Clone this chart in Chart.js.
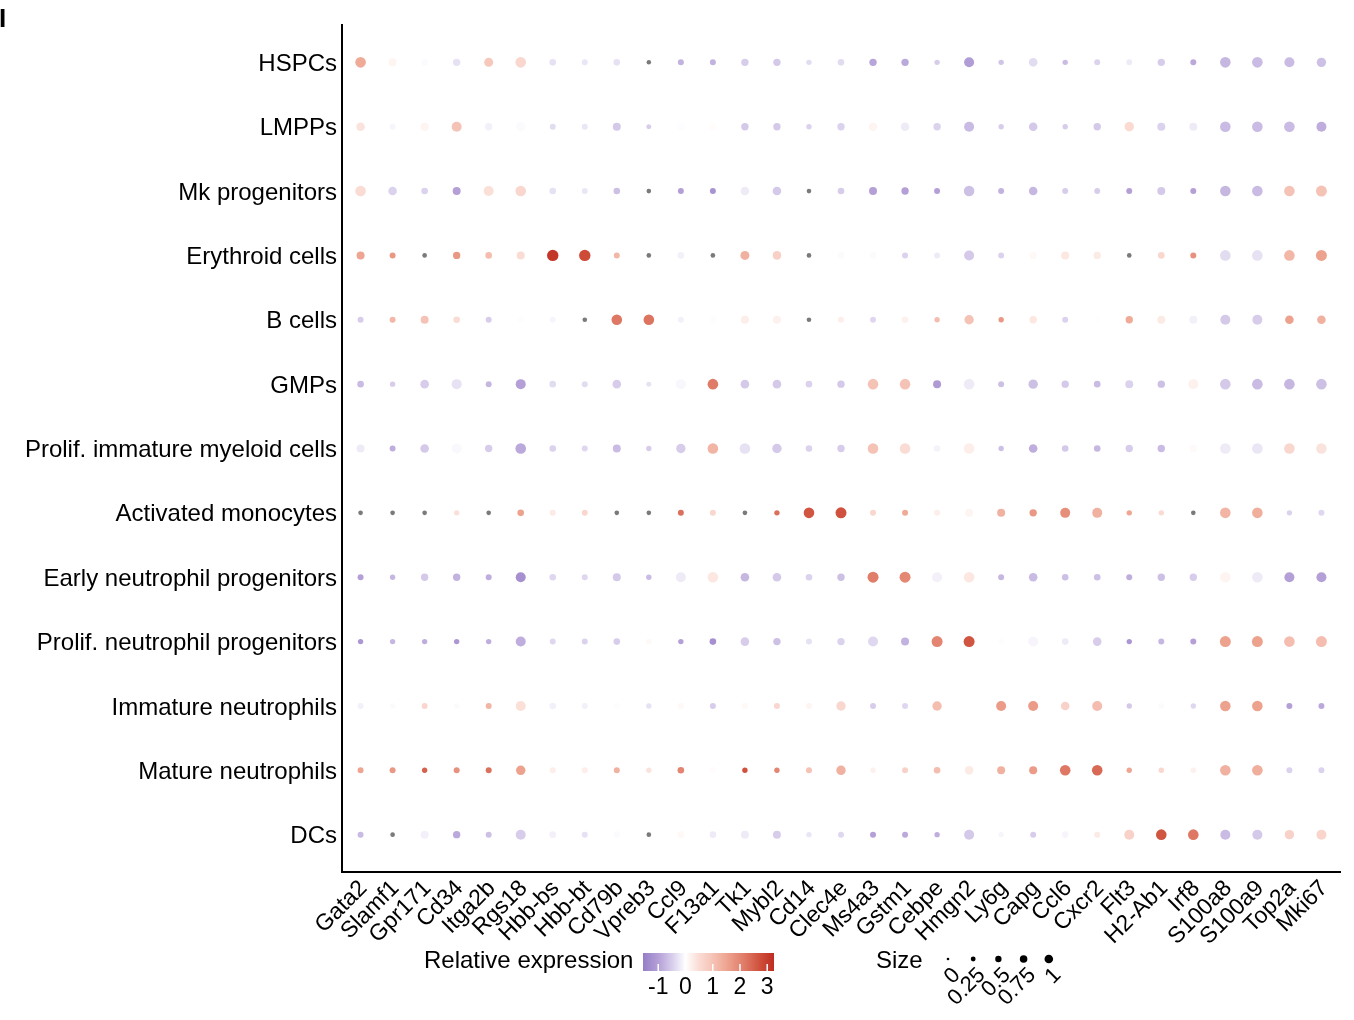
<!DOCTYPE html>
<html>
<head>
<meta charset="utf-8">
<script src="https://cdn.jsdelivr.net/npm/chart.js@4/dist/chart.umd.min.js"></script>
<style>
  html, body { margin: 0; padding: 0; background: #ffffff; }
  #wrap { width: 1354px; height: 1020px; position: relative; }
</style>
</head>
<body>
<div id="wrap"><canvas id="dotplot" width="1354" height="1020"></canvas></div>
<script>
// Marker genes (x axis) and cell populations (y axis, top to bottom)
const genes = ["Gata2", "Slamf1", "Gpr171", "Cd34", "Itga2b", "Rgs18", "Hbb-bs", "Hbb-bt",
  "Cd79b", "Vpreb3", "Ccl9", "F13a1", "Tk1", "Mybl2", "Cd14", "Clec4e", "Ms4a3", "Gstm1",
  "Cebpe", "Hmgn2", "Ly6g", "Capg", "Ccl6", "Cxcr2", "Flt3", "H2-Ab1", "Irf8", "S100a8",
  "S100a9", "Top2a", "Mki67"];

const cellTypes = ["HSPCs", "LMPPs", "Mk progenitors", "Erythroid cells", "B cells", "GMPs",
  "Prolif. immature myeloid cells", "Activated monocytes", "Early neutrophil progenitors",
  "Prolif. neutrophil progenitors", "Immature neutrophils", "Mature neutrophils", "DCs"];

// Relative expression per cell type (rows) and gene (columns); null = not available (grey)
const exprHSPC = [1.4, 0.15, -0.05, -0.3, 0.9, 0.6, -0.3, -0.25, -0.3, null, -0.8, -0.8, -0.5, -0.55, -0.35, -0.35, -0.95, -0.9, -0.5, -1.05, -0.6, -0.35, -0.7, -0.45, -0.2, -0.5, -0.9, -0.75, -0.7, -0.7, -0.65];
const exprLMPP = [0.4, -0.1, 0.15, 1.0, -0.15, -0.05, -0.35, -0.25, -0.55, -0.5, -0.03, 0.05, -0.55, -0.55, -0.45, -0.45, 0.15, -0.2, -0.45, -0.7, -0.5, -0.55, -0.5, -0.55, 0.55, -0.45, -0.2, -0.7, -0.7, -0.7, -0.85];
const exprMk = [0.5, -0.45, -0.45, -1.0, 0.45, 0.6, -0.3, -0.25, -0.65, null, -1.0, -1.2, -0.2, -0.55, null, -0.5, -1.0, -1.0, -1.0, -0.65, -0.8, -0.75, -0.5, -0.5, -1.0, -0.55, -1.0, -0.75, -0.7, 1.0, 1.0];
const exprEry = [1.5, 1.7, null, 1.7, 1.1, 0.5, 3.1, 2.8, 1.2, null, -0.15, null, 1.3, 0.75, null, -0.05, -0.05, -0.45, -0.2, -0.55, -0.45, 0.1, 0.35, 0.3, null, 0.6, 1.8, -0.35, -0.3, 1.2, 1.55];
const exprB = [-0.5, 1.2, 1.0, 0.5, -0.5, -0.02, -0.1, null, 2.2, 2.25, -0.15, -0.03, 0.25, 0.2, null, 0.25, -0.4, 0.2, 1.1, 1.0, 1.7, 0.35, -0.45, 0.02, 1.4, 0.3, -0.15, -0.55, -0.5, 1.55, 1.3];
const exprGMP = [-0.7, -0.5, -0.5, -0.3, -0.75, -1.0, -0.35, -0.35, -0.5, -0.3, -0.08, 2.15, -0.55, -0.55, -0.45, -0.55, 1.0, 1.0, -1.1, -0.2, -0.65, -0.65, -0.55, -0.7, -0.45, -0.65, 0.2, -0.55, -0.7, -0.75, -0.65];
const exprProlifMyeloid = [-0.2, -0.85, -0.55, -0.07, -0.5, -0.9, -0.45, -0.4, -0.7, -0.5, -0.5, 1.25, -0.3, -0.55, -0.45, -0.5, 1.0, 0.5, -0.12, 0.25, -0.65, -0.85, -0.55, -0.75, -0.5, -0.7, 0.07, -0.2, -0.25, 0.6, 0.4];
const exprActMono = [null, null, null, 0.45, null, 1.55, 0.3, 0.6, null, null, 2.3, 0.6, null, 2.3, 2.65, 2.7, 0.6, 1.4, 0.25, 0.15, 1.3, 1.7, 1.85, 1.3, 1.5, 0.55, null, 1.25, 1.35, -0.45, -0.4];
const exprEarlyNeuProg = [-1.0, -0.75, -0.55, -0.8, -0.85, -1.25, -0.4, -0.4, -0.55, -0.7, -0.2, 0.35, -0.75, -0.55, -0.45, -0.65, 2.1, 1.95, -0.15, 0.35, -0.75, -0.7, -0.65, -0.65, -0.85, -0.65, -0.5, 0.15, -0.2, -1.0, -1.0];
const exprProlifNeuProg = [-1.15, -0.75, -0.85, -1.15, -0.85, -0.85, -0.4, -0.45, -0.5, 0.1, -1.0, -1.25, -0.5, -0.65, -0.3, -0.45, -0.4, -0.8, 2.0, 2.65, -0.03, -0.1, -0.2, -0.5, -1.15, -0.75, -1.0, 1.55, 1.55, 1.1, 1.1];
const exprImmNeu = [-0.15, -0.05, 0.6, -0.05, 1.25, 0.45, -0.15, -0.15, -0.02, -0.3, 0.1, -0.5, 0.1, 0.6, 0.15, 0.6, -0.5, -0.4, 1.1, 0.0, 1.65, 1.65, 0.7, 1.1, -0.55, -0.05, -0.4, 1.55, 1.55, -1.0, -0.9];
const exprMatNeu = [1.5, 1.7, 2.5, 1.8, 2.3, 1.55, 0.25, 0.25, 1.3, 0.4, 2.0, 0.05, 2.7, 2.0, 1.0, 1.3, 0.2, 0.7, 1.1, 0.3, 1.3, 1.65, 2.2, 2.4, 1.5, 0.6, 0.2, 1.3, 1.35, -0.45, -0.45];
const exprDC = [-0.7, null, -0.15, -0.9, -0.65, -0.5, -0.15, -0.3, -0.05, null, 0.1, -0.2, -0.2, -0.5, -0.25, -0.4, -1.0, -0.9, -0.85, -0.55, -0.1, -0.5, -0.1, 0.3, 0.7, 2.65, 2.2, -0.7, -0.55, 0.7, 0.65];

// Dot size values per cell type and gene
const sizeHSPC = [1.57, 0.85, 0.55, 0.71, 1.1, 1.57, 0.55, 0.43, 0.55, 0.2, 0.43, 0.43, 0.71, 0.71, 0.33, 0.55, 0.71, 0.71, 0.33, 1.39, 0.33, 1.0, 0.33, 0.43, 0.43, 0.71, 0.43, 1.57, 1.57, 1.39, 1.21];
const sizeLMPP = [1.0, 0.43, 1.0, 1.39, 0.71, 1.21, 0.43, 0.43, 0.85, 0.27, 0.85, 0.71, 0.71, 0.71, 0.33, 0.71, 1.0, 1.0, 0.71, 1.39, 0.33, 1.0, 0.33, 0.71, 1.21, 0.85, 0.85, 1.57, 1.57, 1.57, 1.39];
const sizeMk = [1.57, 1.0, 0.55, 0.85, 1.39, 1.57, 0.55, 0.43, 0.55, 0.22, 0.43, 0.43, 1.0, 1.0, 0.22, 0.55, 0.85, 0.71, 0.43, 1.57, 0.43, 1.0, 0.43, 0.43, 0.43, 0.85, 0.43, 1.57, 1.57, 1.57, 1.7];
const sizeEry = [0.85, 0.43, 0.22, 0.71, 0.55, 0.85, 1.83, 1.83, 0.43, 0.22, 0.55, 0.22, 1.1, 1.0, 0.22, 0.55, 0.55, 0.43, 0.43, 1.39, 0.43, 0.71, 0.85, 0.71, 0.22, 0.55, 0.43, 1.57, 1.57, 1.57, 1.7];
const sizeB = [0.43, 0.43, 0.85, 0.55, 0.43, 0.55, 0.43, 0.22, 1.57, 1.57, 0.43, 0.71, 0.85, 0.85, 0.22, 0.43, 0.43, 0.55, 0.33, 1.21, 0.33, 0.71, 0.43, 0.33, 0.71, 0.85, 0.85, 1.39, 1.39, 1.0, 1.0];
const sizeGMP = [0.55, 0.33, 1.0, 1.39, 0.43, 1.39, 0.55, 0.43, 1.0, 0.27, 1.39, 1.57, 1.0, 1.0, 0.55, 0.71, 1.57, 1.57, 0.85, 1.57, 0.43, 1.21, 0.71, 0.55, 0.85, 0.71, 1.39, 1.57, 1.57, 1.57, 1.57];
const sizeProlifMyeloid = [0.85, 0.43, 1.0, 1.39, 0.71, 1.57, 0.55, 0.43, 0.85, 0.33, 1.21, 1.57, 1.57, 1.21, 0.55, 0.71, 1.57, 1.57, 0.55, 1.57, 0.33, 1.0, 0.55, 0.55, 0.71, 0.71, 0.71, 1.57, 1.57, 1.57, 1.57];
const sizeActMono = [0.22, 0.22, 0.22, 0.33, 0.22, 0.55, 0.43, 0.43, 0.22, 0.22, 0.43, 0.43, 0.22, 0.33, 1.57, 1.7, 0.43, 0.43, 0.43, 0.85, 0.85, 0.71, 1.39, 1.39, 0.33, 0.33, 0.22, 1.57, 1.57, 0.33, 0.43];
const sizeEarlyNeuProg = [0.43, 0.33, 0.71, 0.71, 0.43, 1.39, 0.55, 0.43, 0.85, 0.33, 1.39, 1.57, 1.0, 1.0, 0.55, 0.71, 1.7, 1.7, 1.39, 1.57, 0.43, 1.0, 0.55, 0.55, 0.43, 0.71, 0.71, 1.57, 1.57, 1.39, 1.39];
const sizeProlifNeuProg = [0.33, 0.33, 0.33, 0.33, 0.33, 1.39, 0.43, 0.43, 0.55, 0.33, 0.33, 0.55, 1.0, 0.71, 0.43, 0.71, 1.39, 0.85, 1.7, 1.7, 0.43, 1.39, 0.55, 1.0, 0.33, 0.43, 0.43, 1.7, 1.7, 1.57, 1.7];
const sizeImmNeu = [0.43, 0.33, 0.43, 0.33, 0.43, 1.39, 0.55, 0.43, 0.43, 0.33, 0.43, 0.43, 0.43, 0.43, 0.43, 1.21, 0.43, 0.43, 1.21, 0.43, 1.39, 1.39, 1.0, 1.39, 0.33, 0.33, 0.33, 1.57, 1.57, 0.43, 0.43];
const sizeMatNeu = [0.43, 0.43, 0.33, 0.43, 0.43, 1.21, 0.43, 0.43, 0.43, 0.33, 0.55, 0.43, 0.33, 0.33, 0.43, 1.21, 0.33, 0.43, 0.55, 1.0, 0.85, 0.85, 1.57, 1.57, 0.33, 0.33, 0.33, 1.57, 1.57, 0.43, 0.43];
const sizeDC = [0.43, 0.22, 0.85, 0.71, 0.43, 1.39, 0.55, 0.43, 0.55, 0.22, 0.55, 0.55, 0.85, 0.85, 0.33, 0.43, 0.43, 0.43, 0.33, 1.39, 0.33, 0.43, 0.55, 0.43, 1.39, 1.57, 1.57, 1.39, 1.39, 1.21, 1.39];

// Legend tick labels
const colorTicks = [-1, 0, 1, 2, 3];
const sizeBreaks = [0, 0.25, 0.5, 0.75, 1];

const expression = [exprHSPC, exprLMPP, exprMk, exprEry, exprB, exprGMP, exprProlifMyeloid,
  exprActMono, exprEarlyNeuProg, exprProlifNeuProg, exprImmNeu, exprMatNeu, exprDC];
const dotSize = [sizeHSPC, sizeLMPP, sizeMk, sizeEry, sizeB, sizeGMP, sizeProlifMyeloid,
  sizeActMono, sizeEarlyNeuProg, sizeProlifNeuProg, sizeImmNeu, sizeMatNeu, sizeDC];

// Diverging purple - white - red colour scale
const COLOR_MIN = -1.56, COLOR_MAX = 3.25;
const colorStops = [
  [-1.56, 150, 125, 200], [-1.0, 180, 160, 215], [-0.5, 215, 205, 235], [-0.3, 230, 225, 243],
  [0, 255, 255, 255], [0.5, 250, 220, 212], [1.0, 245, 195, 182], [1.5, 238, 165, 145],
  [2.2, 222, 120, 100], [2.8, 205, 75, 55], [3.25, 190, 45, 35]
];
const NA_COLOR = '#7a7a7a';

function colorFor(v) {
  if (v === null || v === undefined) return NA_COLOR;
  if (v <= colorStops[0][0]) { const s = colorStops[0]; return `rgb(${s[1]},${s[2]},${s[3]})`; }
  for (let i = 1; i < colorStops.length; i++) {
    const a = colorStops[i - 1], b = colorStops[i];
    if (v <= b[0]) {
      const t = (v - a[0]) / (b[0] - a[0]);
      const r = Math.round(a[1] + t * (b[1] - a[1]));
      const g = Math.round(a[2] + t * (b[2] - a[2]));
      const bl = Math.round(a[3] + t * (b[3] - a[3]));
      return `rgb(${r},${g},${bl})`;
    }
  }
  const s = colorStops[colorStops.length - 1];
  return `rgb(${s[1]},${s[2]},${s[3]})`;
}

// Dot area grows linearly with the size value
function radiusFor(s) {
  return Math.sqrt(1.7 + 16.8 * s);
}

const points = [];
cellTypes.forEach((ct, r) => {
  genes.forEach((g, c) => {
    points.push({ x: c, y: r, v: expression[r][c], s: dotSize[r][c] });
  });
});

const FONT = "'Liberation Sans', Arial, Helvetica, sans-serif";

// Colour bar and size key under the plot, plus the panel letter
const legendPlugin = {
  id: 'dotLegend',
  afterDraw(chart) {
    const ctx = chart.ctx;
    ctx.save();
    // panel letter
    ctx.fillStyle = '#000';
    ctx.font = `bold 26px ${FONT}`;
    ctx.textAlign = 'left';
    ctx.textBaseline = 'alphabetic';
    ctx.fillText('I', -1, 27);

    // colour bar
    ctx.font = `24px ${FONT}`;
    ctx.fillText('Relative expression', 424, 968);
    const x0 = 643, x1 = 774, y0 = 953, y1 = 971;
    for (let x = x0; x < x1; x++) {
      const v = COLOR_MIN + (x + 0.5 - x0) / (x1 - x0) * (COLOR_MAX - COLOR_MIN);
      ctx.fillStyle = colorFor(v);
      ctx.fillRect(x, y0, 1, y1 - y0);
    }
    ctx.strokeStyle = '#fff';
    ctx.lineWidth = 1.5;
    ctx.fillStyle = '#000';
    ctx.textAlign = 'center';
    ctx.font = `23px ${FONT}`;
    colorTicks.forEach(t => {
      const x = x0 + (t - COLOR_MIN) / (COLOR_MAX - COLOR_MIN) * (x1 - x0);
      ctx.beginPath();
      ctx.moveTo(x, y1 - 7);
      ctx.lineTo(x, y1);
      ctx.stroke();
      ctx.fillText(String(t), x, 994);
    });

    // size key
    ctx.textAlign = 'left';
    ctx.font = `24px ${FONT}`;
    ctx.fillText('Size', 876, 968);
    ctx.font = `22px ${FONT}`;
    sizeBreaks.forEach((b, i) => {
      const x = 948 + i * 25.2;
      ctx.fillStyle = '#000';
      ctx.beginPath();
      ctx.arc(x, 959, radiusFor(b), 0, Math.PI * 2);
      ctx.fill();
      ctx.save();
      ctx.translate(x + 1, 964);
      ctx.rotate(-Math.PI / 4);
      ctx.textAlign = 'right';
      ctx.textBaseline = 'top';
      ctx.fillText(String(b), 0, 0);
      ctx.restore();
    });
    ctx.restore();
  }
};

new Chart(document.getElementById('dotplot'), {
  type: 'scatter',
  data: {
    datasets: [{
      data: points,
      pointRadius: c => radiusFor(c.raw.s),
      pointHoverRadius: c => radiusFor(c.raw.s),
      pointBackgroundColor: c => colorFor(c.raw.v),
      pointBorderWidth: 0,
      pointBorderColor: 'rgba(0,0,0,0)'
    }]
  },
  options: {
    responsive: false,
    animation: false,
    devicePixelRatio: 1,
    layout: { padding: { left: 0, right: 14, top: 25, bottom: 0 } },
    plugins: { legend: { display: false }, tooltip: { enabled: false } },
    events: [],
    scales: {
      x: {
        type: 'linear',
        min: -0.58,
        max: 30.58,
        afterBuildTicks: s => { s.ticks = genes.map((g, i) => ({ value: i })); },
        afterFit: s => { s.height = 148; },
        grid: { display: false, drawTicks: false },
        border: { display: true, color: '#000', width: 2 },
        ticks: {
          autoSkip: false,
          minRotation: 45,
          maxRotation: 45,
          padding: 3,
          labelOffset: 3,
          color: '#000',
          font: { family: FONT, size: 23 },
          callback: v => genes[Math.round(v)]
        }
      },
      y: {
        type: 'linear',
        reverse: true,
        min: -0.58,
        max: 12.58,
        afterBuildTicks: s => { s.ticks = cellTypes.map((c, i) => ({ value: i })); },
        afterFit: s => { s.width = 342; },
        grid: { display: false, drawTicks: false },
        border: { display: true, color: '#000', width: 2 },
        ticks: {
          autoSkip: false,
          padding: 5,
          labelOffset: 2,
          color: '#000',
          font: { family: FONT, size: 24 },
          callback: v => cellTypes[Math.round(v)]
        }
      }
    }
  },
  plugins: [legendPlugin]
});
</script>
</body>
</html>
